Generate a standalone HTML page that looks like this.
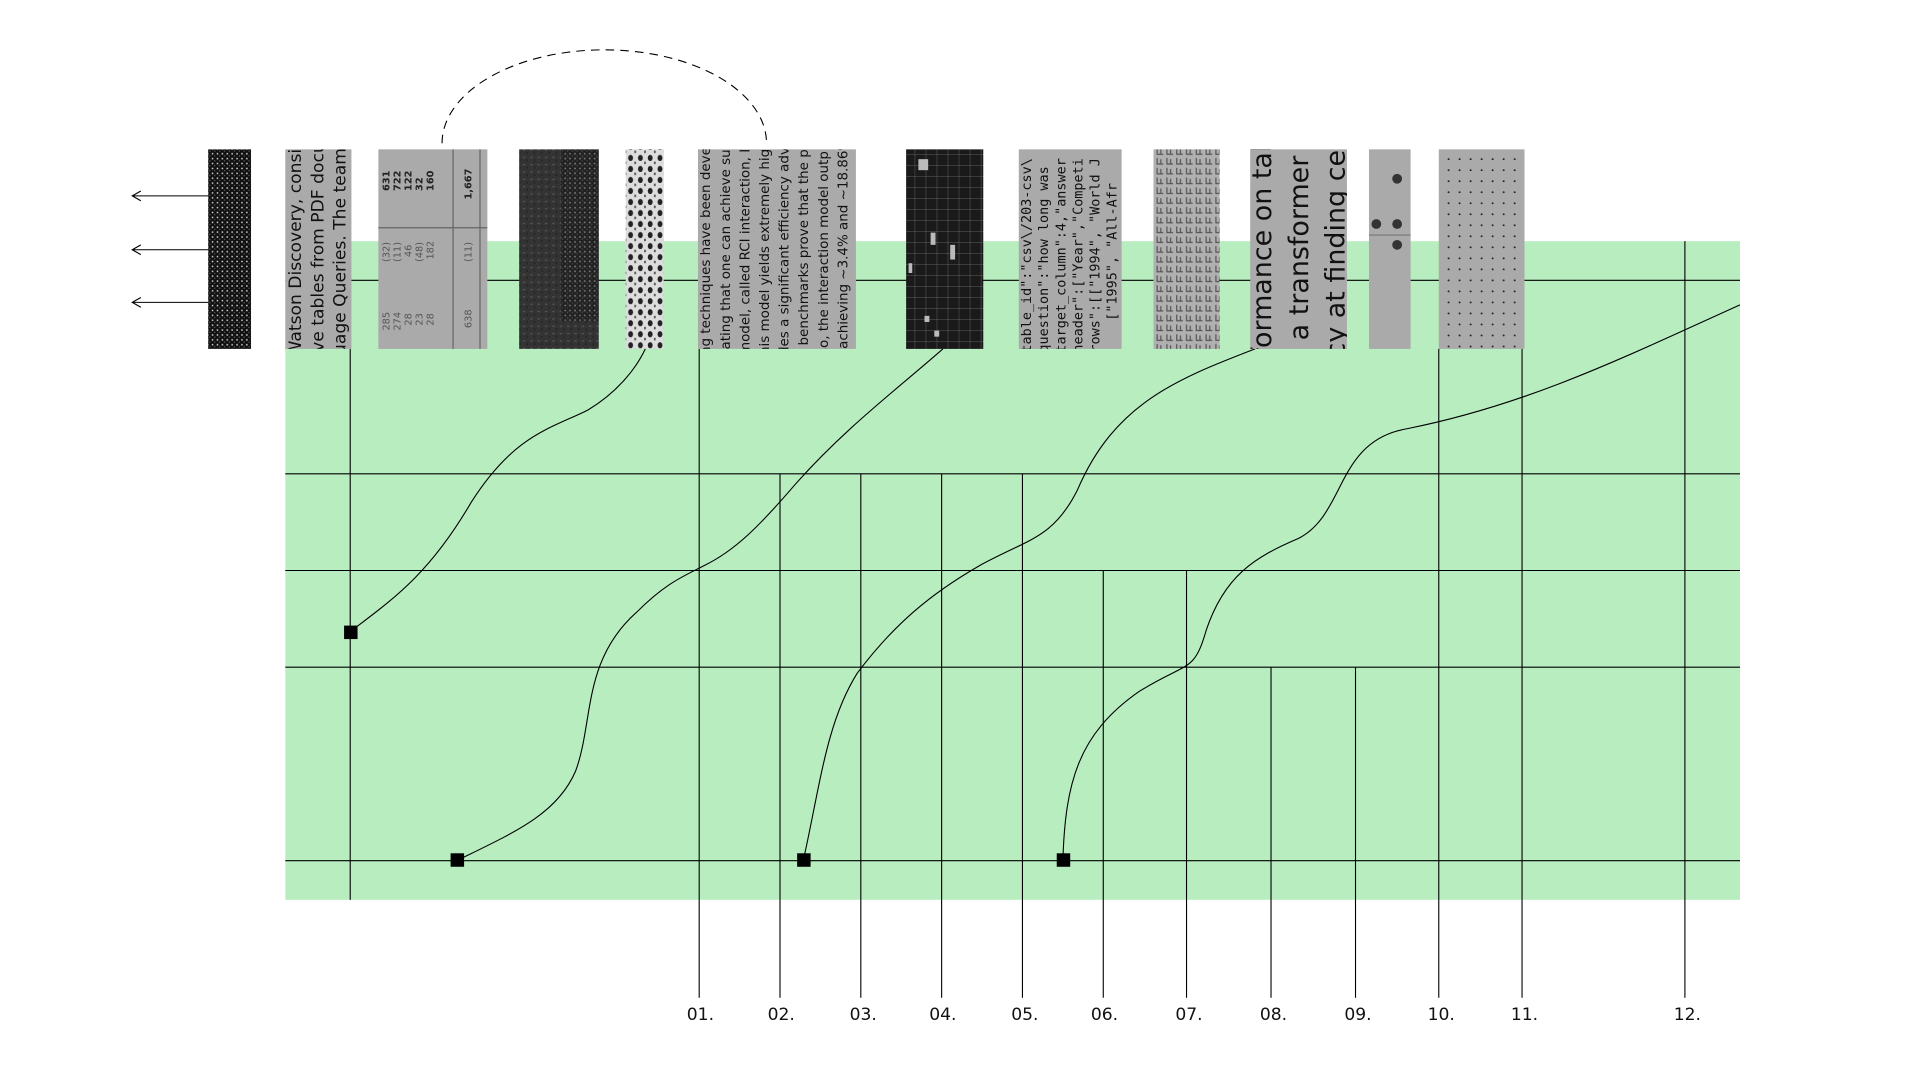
<!DOCTYPE html>
<html><head><meta charset="utf-8"><style>html,body{margin:0;padding:0;background:#fff;overflow:hidden}svg{display:block}</style></head>
<body>
<svg width="1920" height="1081" viewBox="0 0 1568 883" preserveAspectRatio="none" xmlns="http://www.w3.org/2000/svg">
<defs>
<pattern id="pn1" width="4" height="4" patternUnits="userSpaceOnUse"><rect width="4" height="4" fill="#111"/><rect x="1" y="1" width="1.2" height="1.2" fill="#ddd"/><rect x="3" y="3" width="0.8" height="0.8" fill="#888"/></pattern>
<pattern id="pn2" width="6" height="6" patternUnits="userSpaceOnUse"><rect width="6" height="6" fill="#333"/><rect x="1" y="2" width="2" height="1" fill="#555"/><rect x="4" y="4" width="1" height="2" fill="#222"/></pattern>
<pattern id="pn3" width="8" height="9" patternUnits="userSpaceOnUse"><rect width="8" height="9" fill="#ddd"/><ellipse cx="3" cy="3" rx="2" ry="2.5" fill="#222"/><rect x="6" y="6" width="1.5" height="2" fill="#555"/></pattern>
<pattern id="pgrid" width="9" height="9" patternUnits="userSpaceOnUse"><rect width="9" height="9" fill="#1a1a1a"/><path d="M0 0H9M0 0V9" stroke="#777" stroke-width="0.6"/></pattern>
<pattern id="pchar" width="8" height="8" patternUnits="userSpaceOnUse"><rect width="8" height="8" fill="#b0b0b0"/><path d="M1 1v5h5M4 2v4" stroke="#555" stroke-width="1" fill="none"/></pattern>
<pattern id="pdots" width="9" height="9" patternUnits="userSpaceOnUse"><rect width="9" height="9" fill="#aaa"/><circle cx="4" cy="4" r="0.8" fill="#222"/></pattern>
<clipPath id="c2"><rect x="233" y="122" width="54" height="163"/></clipPath>
<clipPath id="c6"><rect x="570" y="122" width="129" height="163"/></clipPath>
<clipPath id="c8"><rect x="832" y="122" width="84" height="163"/></clipPath>
<clipPath id="c10"><rect x="1021" y="122" width="79" height="163"/></clipPath>
</defs>
<rect x="233" y="197" width="1188" height="538" fill="#b8edc0"/>
<g stroke="#000" stroke-width="0.9" fill="none">
<path d="M233 229H1421M233 387H1421M233 466H1421M233 545H1421M233 703H1421"/>
<path d="M286 285V735M571 285V815M637 387V815M703 387V815M769 387V815M835 387V815M901 466V815M969 466V815M1038 545V815M1107 545V815M1175 285V815M1243 285V815M1376 197V815"/>
<path d="M170 160H108M115 156L108 160L115 164M170 204H108M115 200L108 204L115 208M170 247H108M115 243L108 247L115 251"/>
<path d="M361 117A132 76 0 0 1 626 117" stroke-dasharray="7,5"/>
<path d="M286 516C320 490 350 470 385 410C420 355 450 350 480 335C505 320 520 300 527 285"/>
<path d="M373 703C420 680 455 665 470 630C485 590 475 540 520 500C545 475 560 470 575 462C600 450 620 430 650 395C690 350 730 320 770 285"/>
<path d="M656 703C670 640 675 590 700 550C730 510 760 485 800 462C840 440 860 440 880 400C910 330 960 310 1025 285"/>
<path d="M868 703C870 640 880 600 930 565C970 540 975 550 985 515C1000 470 1025 455 1060 440C1100 420 1090 360 1150 350C1250 330 1330 290 1421 249"/>
</g>
<g fill="#000"><rect x="281" y="511" width="11" height="11"/><rect x="368" y="697" width="11" height="11"/><rect x="651" y="697" width="11" height="11"/><rect x="863" y="697" width="11" height="11"/></g>
<rect x="170" y="122" width="35" height="163" fill="url(#pn1)"/>
<rect x="233" y="122" width="54" height="163" fill="#aaa"/>
<g clip-path="url(#c2)" font-family="DejaVu Sans, sans-serif" font-size="14" fill="#111">
<text transform="translate(246,292) rotate(-90)">Watson Discovery, consist</text>
<text transform="translate(264,296) rotate(-90)">eve tables from PDF docu</text>
<text transform="translate(282,290) rotate(-90)">uage Queries. The team</text>
</g>
<rect x="309" y="122" width="89" height="163" fill="#aaa"/>
<g stroke="#666" stroke-width="1"><path d="M309 186H398M370 122V285M392 122V285"/></g>
<g font-family="DejaVu Sans, sans-serif" font-size="8" fill="#555">
<text transform="translate(318,270) rotate(-90)">285</text><text transform="translate(327,270) rotate(-90)">274</text><text transform="translate(336,266) rotate(-90)">28</text><text transform="translate(345,266) rotate(-90)">23</text><text transform="translate(354,266) rotate(-90)">28</text><text transform="translate(385,268) rotate(-90)">638</text>
<text transform="translate(318,214) rotate(-90)">(32)</text><text transform="translate(327,214) rotate(-90)">(11)</text><text transform="translate(336,210) rotate(-90)">46</text><text transform="translate(345,214) rotate(-90)">(48)</text><text transform="translate(354,212) rotate(-90)">182</text><text transform="translate(385,214) rotate(-90)">(11)</text>
<g font-weight="bold" fill="#222"><text transform="translate(318,156) rotate(-90)">631</text><text transform="translate(327,156) rotate(-90)">722</text><text transform="translate(336,156) rotate(-90)">122</text><text transform="translate(345,156) rotate(-90)">32</text><text transform="translate(354,156) rotate(-90)">160</text><text transform="translate(385,163) rotate(-90)">1,667</text></g>
</g>
<rect x="424" y="122" width="65" height="163" fill="url(#pn2)"/>
<rect x="458" y="122" width="31" height="140" fill="url(#pn1)" opacity="0.5"/>
<rect x="511" y="122" width="31" height="163" fill="url(#pn3)"/>
<rect x="570" y="122" width="129" height="163" fill="#aaa"/>
<g clip-path="url(#c6)" font-family="DejaVu Sans, sans-serif" font-size="11" fill="#111">
<text transform="translate(580,290) rotate(-90)">ng techniques have been deve</text>
<text transform="translate(596,290) rotate(-90)">rating that one can achieve sup</text>
<text transform="translate(612,290) rotate(-90)">model, called RCI interaction, I</text>
<text transform="translate(628,290) rotate(-90)">his model yields extremely hig</text>
<text transform="translate(644,290) rotate(-90)">des a significant efficiency adv</text>
<text transform="translate(660,290) rotate(-90)">t benchmarks prove that the p</text>
<text transform="translate(676,290) rotate(-90)">so, the interaction model outp</text>
<text transform="translate(692,285) rotate(-90)">achieving ~3.4% and ~18.86%</text>
</g>
<rect x="740" y="122" width="63" height="163" fill="url(#pgrid)"/>
<g fill="#bbb"><rect x="750" y="130" width="8" height="9"/><rect x="760" y="190" width="4" height="10"/><rect x="776" y="200" width="4" height="12"/><rect x="742" y="215" width="3" height="8"/><rect x="755" y="258" width="4" height="5"/><rect x="763" y="270" width="4" height="5"/></g>
<rect x="832" y="122" width="84" height="163" fill="#aaa"/>
<g clip-path="url(#c8)" font-family="DejaVu Sans Mono, monospace" font-size="11" fill="#111">
<text transform="translate(842,288) rotate(-90)">table_id":"csv\/203-csv\</text>
<text transform="translate(856,288) rotate(-90)">question":"how long was</text>
<text transform="translate(870,288) rotate(-90)">target_column":4,"answer</text>
<text transform="translate(884,288) rotate(-90)">header":["Year","Competi</text>
<text transform="translate(898,288) rotate(-90)">rows":[["1994", "World J</text>
<text transform="translate(912,262) rotate(-90)">["1995", "All-Afr</text>
</g>
<rect x="942" y="122" width="54" height="163" fill="url(#pchar)"/>
<rect x="1021" y="122" width="79" height="163" fill="#aaa"/>
<g clip-path="url(#c10)" font-family="DejaVu Sans, sans-serif" font-size="22" fill="#111">
<text transform="translate(1038,292) rotate(-90)">formance on tal</text>
<text transform="translate(1068,278) rotate(-90)">a transformer b</text>
<text transform="translate(1098,292) rotate(-90)">cy at finding cell</text>
</g>
<rect x="1118" y="122" width="34" height="163" fill="#aaa"/>
<g fill="#333"><circle cx="1141" cy="146" r="4"/><circle cx="1124" cy="183" r="4"/><circle cx="1141" cy="183" r="4"/><circle cx="1141" cy="200" r="4"/></g>
<path d="M1118 192H1152" stroke="#777"/>
<rect x="1175" y="122" width="70" height="163" fill="url(#pdots)"/>
<g font-family="DejaVu Sans, sans-serif" font-size="14" fill="#111" text-anchor="middle">
<text x="572" y="833">01.</text><text x="638" y="833">02.</text><text x="705" y="833">03.</text><text x="770" y="833">04.</text><text x="837" y="833">05.</text><text x="902" y="833">06.</text><text x="971" y="833">07.</text><text x="1040" y="833">08.</text><text x="1109" y="833">09.</text><text x="1177" y="833">10.</text><text x="1245" y="833">11.</text><text x="1378" y="833">12.</text>
</g>
</svg>
</body></html>
